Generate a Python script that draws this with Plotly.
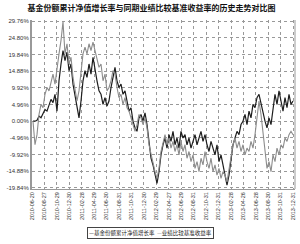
import plotly.graph_objects as go

title_text = "基金份额累计净值增长率与同期业绩比较基准收益率的历史走势对比图"
name_fund = "基金份额累计净值增长率"
name_bench = "业绩比较基准收益率"

fund = [0, 0, 0.3, 1.5, 1.0, 2.5, 3.5, 3.0, 5.0, 6.5,
        5.5, 8.0, 3.0, 12, 17, 21, 18, 20.5, 15, 17,
        11, 8, 4, 1, 6, 12, 15, 13, 17, 14,
        19, 15, 12, 9, 8, 5, 7, 4.5, 6, 10,
        13, 16, 12, 10, 11, 8, 9, 6, 3, 4,
        0, -2, -3, 1, 2, 0, 2.5, -1, -6, -11,
        -13, -16, -18.5, -15, -10, -7, -5, -8, -4, -6,
        -3, -7, -5, -8, -3, -5, -4, -7, -5, -8,
        -6, -4, -7, -5, -3, -6, -4, -7, -9, -6,
        -8, -10, -7, -12, -10, -13, -15, -19, -16, -11,
        -7, -5, -3, -4, -1, 0, 2, -1, 3, 1,
        5, 4, 7, 8, 5, 3, 0, -2, 1, -1,
        4, 8, 5, 9, 6, 3, 7, 4, 8, 5,
        6]

bench = [0, -7, -4, 2, 5, 4, 8, 10, 9, 12,
         14, 11, 16, 20, 24, 29.5, 20, 23, 17, 19,
         13, 10, 6, 9, 15, 20, 22, 20, 23, 21,
         23.5, 21, 18, 16, 17, 12, 14, 9, 10, 12,
         15, 14, 10, 7, 8, 5, 7, 4, 3, 1,
         -1, -3, -1, 2, 1, -1, 1, -2, -7, -10,
         -12, -15, -17, -14, -9, -6, -4, -7, -5, -8,
         -6, -9, -7, -10, -6, -9, -7, -11, -9, -12,
         -10, -14, -12, -15, -11, -13, -9, -12, -14, -11,
         -15, -13, -16, -14, -17, -15, -16, -18, -14, -10,
         -7, -5, -8, -6, -9, -7, -10, -8, -9, -6,
         -8, -4, 1, 6, 2, -3, -9, -14, -12, -15,
         -10, -12, -8, -10, -7, -8, -5, -6, -4, -3,
         -4]

x_idx = list(range(len(fund)))

tick_labels = ["2010-06-20", "2010-08-27", "2010-10-29", "2010-12-30", "2011-02-28",
               "2011-04-29", "2011-06-30", "2011-08-31", "2011-10-31", "2011-12-30",
               "2012-02-29", "2012-04-27", "2012-06-29", "2012-08-31", "2012-10-31",
               "2012-12-31", "2013-02-28", "2013-04-26", "2013-06-28", "2013-08-30",
               "2013-10-31", "2013-12-31"]
tick_pos = [-0.5, 5.7, 11.9, 18.1, 24.4, 30.6, 36.8, 43.0, 49.2, 55.4, 61.7,
            67.9, 74.1, 80.3, 86.5, 92.7, 99.0, 105.2, 111.4, 117.6, 123.8, 130.0]

y_ticks = [29.76, 24.80, 19.84, 14.88, 9.92, 4.96, 0.00, -4.96, -9.92, -14.88, -19.84]
y_labels = ["%.2f%%" % v for v in y_ticks]

fig = go.Figure()
fig.add_trace(go.Scatter(x=x_idx, y=fund, mode="lines", name=name_fund,
                         line=dict(color="#1e1e1e", width=1.2), showlegend=False))
fig.add_trace(go.Scatter(x=x_idx, y=bench, mode="lines", name=name_bench,
                         line=dict(color="#8c8c8c", width=1.1), showlegend=False))

fig.update_layout(
    width=300, height=244,
    margin=dict(l=32, r=5, t=20, b=55),
    paper_bgcolor="white", plot_bgcolor="white",
    title=dict(text="<b>" + title_text + "</b>", x=0.505, xanchor="center",
               y=0.965, yanchor="middle",
               font=dict(family="Noto Sans CJK SC", size=8, color="#111")),
    font=dict(family="Liberation Sans, Arial", size=6, color="#333"),
)
fig.update_xaxes(
    range=[-0.5, 131], tickmode="array", tickvals=tick_pos, ticktext=tick_labels,
    tickangle=-90, tickfont=dict(size=5.5, color="#333"),
    showgrid=True, gridcolor="#999", griddash="dot", gridwidth=1,
    showline=True, linecolor="#999", linewidth=1, zeroline=False, ticks="",
)
fig.update_yaxes(
    range=[-20.14, 30.06], tickmode="array", tickvals=y_ticks, ticktext=y_labels,
    tickfont=dict(size=6, color="#333"),
    showgrid=True, gridcolor="#999", griddash="dot", gridwidth=1,
    showline=True, linecolor="#999", linewidth=2, zeroline=False, ticks="",
)
fig.add_shape(type="line", xref="paper", yref="paper", x0=1, x1=1, y0=0, y1=1,
              line=dict(color="#999", width=1))

legend_text = ("<span style='color:#1e1e1e'>—</span>" + name_fund +
               "  <span style='color:#8c8c8c'>—</span>" + name_bench)
fig.add_annotation(xref="paper", yref="paper", x=0.45, y=-0.225,
                   xanchor="center", yanchor="top", showarrow=False,
                   text=legend_text, font=dict(family="Noto Sans CJK SC", size=5.5, color="#222"),
                   bordercolor="#444", borderwidth=1, borderpad=1, bgcolor="white")

fig.write_html("out.html")
